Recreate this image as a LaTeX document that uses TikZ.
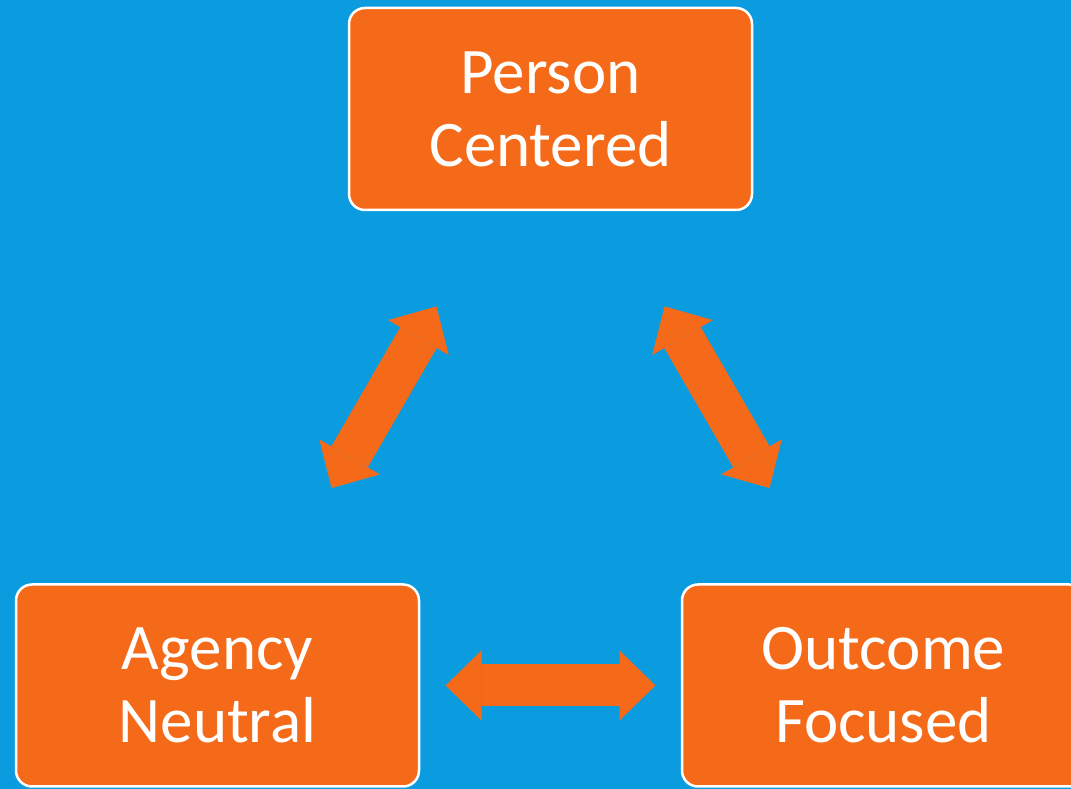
\documentclass[tikz,border=0pt]{standalone}
\usepackage{fontspec}
\setmainfont{Carlito}
\usetikzlibrary{arrows.meta}
\definecolor{skyblue}{RGB}{11,155,223}
\definecolor{carrot}{RGB}{245,106,24}
\tikzset{
    stage/.style={draw=white, line width=2.5pt, fill=carrot, rounded corners=16pt,
        minimum width=403pt, minimum height=202pt, align=center, text=white,
        font=\fontsize{65}{73}\selectfont},
    link/.style={carrot, line width=42pt, shorten <=228pt, shorten >=228pt, <->,
        >={Triangle[width=70pt,length=36pt,line width=0pt]}}
}
\begin{document}
\begin{tikzpicture}[x=1pt,y=1pt]
    \useasboundingbox (0,0) rectangle (1071,789);
    \fill[skyblue] (0,0) rectangle (1071,789);
    \clip (0,0) rectangle (1071,789);
    \node[stage] (pc) at (550.5,680) {Person\\Centered};
    \node[stage] (an) at (217.5,103.5) {Agency\\Neutral};
    \node[stage] (of) at (883.5,103.5) {Outcome\\Focused};
    \draw[link] (pc.center) -- (an.center);
    \draw[link] (pc.center) -- (of.center);
    \draw[link] (an.center) -- (of.center);
\end{tikzpicture}
\end{document}
